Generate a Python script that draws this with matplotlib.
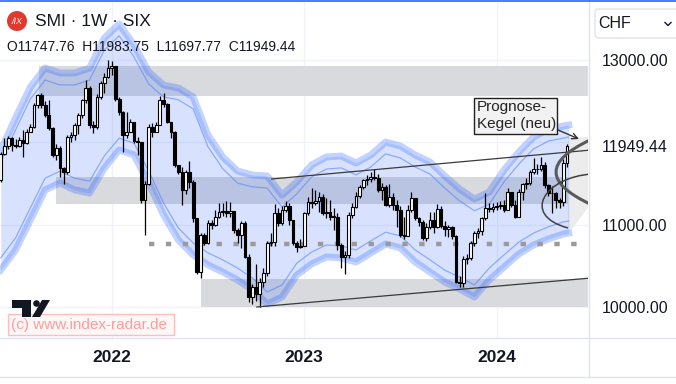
import matplotlib

matplotlib.use("Agg")
import matplotlib.pyplot as plt
import numpy as np
from matplotlib.patches import Circle, Polygon, Rectangle, FancyBboxPatch, PathPatch
from matplotlib.path import Path
from matplotlib.transforms import IdentityTransform

plt.rcParams["font.family"] = ["Liberation Sans", "DejaVu Sans"]

W, H = 676, 384

# ---- weekly SMI candles (index 0 = first visible week, mid 2021) ----
first_open = 11540
close = [
    11860, 11950, 12050, 11970, 11955, 12030, 11990, 12130, 12190, 12450,
    12570, 12450, 12330, 12170, 11850, 11930, 11685, 11645, 12070, 12090,
    12210, 12330, 12510, 12655, 12210, 12190, 12550, 12715, 12795, 12897,
    12920, 12530, 12370, 12090, 12130, 12250, 12010, 12000, 11300, 11500,
    12190, 12130, 12210, 12510, 12460, 12250, 12130, 11725, 11640, 11420,
    11645, 11520, 11080, 10430, 10876, 10776, 11020, 11000, 11100, 11160,
    11170, 11140, 11170, 10940, 10880, 11020, 10613, 10130, 10250, 10160,
    10310, 10412, 10776, 10795, 11140, 11018, 11180, 11230, 11058, 10780,
    10734, 10740, 11140, 11280, 11270, 11290, 11340, 11140, 11160, 11100,
    11100, 10755, 10613, 10634, 11120, 11220, 11350, 11460, 11540, 11551,
    11580, 11567, 11420, 11462, 11240, 11340, 11240, 11180, 10880, 10870,
    11180, 11321, 11080, 11030, 10840, 10977, 11060, 10977, 11190, 10980,
    10950, 10977, 10860, 10310, 10290, 10590, 10597, 10780, 10900, 10920,
    11080, 11200, 11190, 11220, 11230, 11240, 11180, 11400, 11240, 11100,
    11400, 11490, 11503, 11640, 11673, 11680, 11724, 11480, 11380, 11390,
    11300, 11280, 11747.76, 11949.44,
]
high = [
    11880, 12050, 12080, 12070, 12040, 12060, 12150, 12160, 12220, 12470,
    12590, 12600, 12500, 12510, 12180, 11980, 11950, 11700, 12090, 12120,
    12230, 12350, 12530, 12755, 12680, 12260, 12580, 12740, 12835, 12997,
    12990, 12930, 12550, 12380, 12370, 12280, 12250, 12060, 11990, 11530,
    12220, 12230, 12240, 12560, 12600, 12470, 12200, 12140, 11700, 11700,
    11660, 11770, 11540, 11060, 10900, 10900, 11060, 11060, 11180, 11260,
    11260, 11290, 11280, 11120, 10960, 11050, 11050, 10640, 10280, 10530,
    10350, 10480, 10800, 10900, 11250, 11200, 11230, 11290, 11270, 11050,
    10800, 10830, 11160, 11340, 11440, 11420, 11400, 11370, 11330, 11300,
    11200, 11140, 10780, 10680, 11150, 11260, 11400, 11480, 11560, 11600,
    11640, 11680, 11620, 11510, 11480, 11500, 11380, 11300, 11230, 11090,
    11240, 11401, 11300, 11100, 11060, 11020, 11150, 11158, 11250, 11230,
    11040, 11000, 10990, 10880, 10380, 10620, 10640, 10800, 10930, 10960,
    11100, 11380, 11260, 11270, 11280, 11290, 11300, 11450, 11400, 11300,
    11430, 11510, 11563, 11660, 11806, 11740, 11820, 11760, 11500, 11470,
    11400, 11320, 11800, 11983.75,
]
low = [
    11520, 11850, 11920, 11900, 11930, 11940, 11825, 11980, 12150, 12170,
    12420, 12420, 12310, 12150, 11820, 11780, 11583, 11500, 11620, 12000,
    12030, 12100, 12300, 12480, 12170, 12110, 12160, 12520, 12600, 12780,
    12820, 12500, 12330, 11886, 12050, 12120, 11990, 11850, 11270, 10880,
    11480, 12070, 12150, 12230, 12430, 12230, 12050, 11700, 11610, 11240,
    11370, 11440, 11030, 10400, 10351, 10750, 10770, 10950, 10980, 11080,
    11110, 11100, 11100, 10900, 10776, 10720, 10600, 10060, 10040, 10080,
    10000, 10250, 10380, 10740, 10740, 10980, 11000, 11150, 11000, 10760,
    10670, 10720, 10740, 11120, 11200, 11240, 11150, 11120, 11080, 11060,
    10940, 10700, 10480, 10404, 10600, 11080, 11200, 11330, 11430, 11480,
    11520, 11540, 11400, 11300, 11230, 11220, 11180, 10970, 10850, 10830,
    10860, 11150, 11060, 10990, 10820, 10800, 10950, 10900, 10960, 10960,
    10870, 10850, 10830, 10290, 10240, 10240, 10520, 10570, 10740, 10840,
    10880, 11060, 11150, 11160, 11180, 11190, 11160, 11180, 11220, 11080,
    11090, 11300, 11430, 11480, 11620, 11620, 11650, 11450, 11350, 11139,
    11200, 11200, 11230, 11697.77,
]

# ---- envelope band, sampled every 4 weeks ----
band_week = [0, 4, 8, 12, 16, 20, 24, 28, 32, 36, 40, 44, 48, 52, 56, 60, 64, 68, 72, 76,
             80, 84, 88, 92, 96, 100, 104, 108, 112, 116, 120, 124, 128, 132, 136, 140,
             144, 148, 152, 153.5]
band_up_outer = [11906, 12294, 12670, 12900, 12840, 12840, 12900, 13264, 13434, 13179,
                 12852, 12694, 12658, 12549, 12088, 11822, 11652, 11603, 11591, 11361,
                 11519, 11725, 11822, 11834, 11749, 11846, 12003, 11955, 11846, 11761,
                 11591, 11434, 11313, 11397, 11664, 11882, 12064, 12161, 12197, 12209]
band_up_inner = [11760, 12150, 12525, 12755, 12695, 12695, 12755, 13120, 13290, 13035,
                 12705, 12550, 12515, 12405, 11945, 11680, 11505, 11460, 11445, 11215,
                 11375, 11580, 11675, 11690, 11605, 11700, 11860, 11810, 11700, 11615,
                 11445, 11290, 11170, 11250, 11520, 11735, 11920, 12015, 12050, 12065]
band_lo_inner = [10600, 10840, 11205, 11565, 11650, 11565, 11530, 11835, 12050, 11990,
                 11650, 11265, 10960, 10780, 10660, 10575, 10475, 10355, 10185, 10270,
                 10535, 10670, 10755, 10745, 10695, 10805, 10910, 10865, 10695, 10575,
                 10450, 10365, 10270, 10475, 10635, 10790, 10900, 10975, 11035, 11045]
band_lo_outer = [10452, 10694, 11058, 11422, 11507, 11422, 11385, 11688, 11906, 11846,
                 11507, 11119, 10816, 10634, 10513, 10428, 10331, 10210, 10040, 10125,
                 10391, 10525, 10610, 10598, 10549, 10658, 10767, 10719, 10549, 10428,
                 10307, 10222, 10125, 10331, 10488, 10646, 10755, 10828, 10888, 10900]

# ---- zones / levels (week start, low, high) ----
zones = [(10.3, 12565, 12928), (14.9, 11258, 11580), (54.0, 10007, 10343)]
dotted_level = 10764
dotted_start = 40.0
trend_up = [(73.2, 11555), (159.5, 11906)]
trend_lo = [(69.2, 10004), (159.5, 10355)]

year_weeks = [30, 82, 134]
year_labels = ["2022", "2023", "2024"]
grid_levels = [10000, 11000, 12000, 13000]
axis_levels = [10000, 11000, 13000]

XMIN, XMAX = -0.2, 158.7
YMIN, YMAX = 9634, 13688
AX_TOP, AX_BOT, AX_RIGHT = 3, 337.5, 588
PIX = IdentityTransform()


def fx(px):
    return px / W


def fy(py):
    return 1 - py / H


def to_data(px, py):
    wk = XMIN + (XMAX - XMIN) * px / AX_RIGHT
    pr = YMAX - (YMAX - YMIN) * (py - AX_TOP) / (AX_BOT - AX_TOP)
    return wk, pr


fig = plt.figure(figsize=(W / 100, H / 100), dpi=100)
fig.patch.set_facecolor("white")
ax = fig.add_axes([0, fy(AX_BOT), fx(AX_RIGHT), (AX_BOT - AX_TOP) / H])
ax.set_xlim(XMIN, XMAX)
ax.set_ylim(YMIN, YMAX)
ax.set_facecolor("white")
for s in ax.spines.values():
    s.set_visible(False)

for lv in grid_levels:
    ax.axhline(lv, color="#f0f3fa", lw=1, zorder=0)
for wk in year_weeks:
    ax.axvline(wk, color="#f0f3fa", lw=1, zorder=0)

# gray zones
for start, lo, hi in zones:
    ax.add_patch(Rectangle((start, lo), XMAX + 1 - start, hi - lo, facecolor="#d9dadd",
                           edgecolor="none", zorder=1))

# light forecast area right of last candle
cone_pts = [to_data(568, 137), to_data(590, 137), to_data(590, 205), to_data(572, 229), to_data(568, 229)]
ax.add_patch(Polygon(cone_pts, closed=True, facecolor="#ececec", edgecolor="none", zorder=1))

# envelope band
ax.fill_between(band_week, band_lo_outer, band_up_outer, color="#2962ff", alpha=0.18, lw=0, zorder=2)
for ys in (band_up_outer, band_lo_outer):
    ax.plot(band_week, ys, color="#2962ff", alpha=0.28, lw=5, solid_joinstyle="round", zorder=3)
for ys in (band_up_inner, band_lo_inner):
    ax.plot(band_week, ys, color="#4f7cf7", alpha=0.55, lw=0.9, zorder=3)

# dotted level
ax.plot([dotted_start, XMAX + 1], [dotted_level, dotted_level], color="#9a9a9a", lw=3.2,
        linestyle=(0, (1.2, 2.6)), zorder=3)

# trend lines
for (x0, y0), (x1, y1) in (trend_up, trend_lo):
    ax.plot([x0, x1], [y0, y1], color="#3a3a3a", lw=0.9, zorder=6)

# candles
c = np.array(close, dtype=float)
o = np.array([first_open] + close[:-1], dtype=float)
idx = np.arange(len(c))
up = c >= o
ax.vlines(idx, low, high, color="black", lw=0.9, zorder=4)
ax.bar(idx, np.maximum(np.abs(c - o), 8), bottom=np.minimum(o, c), width=0.74,
       color=np.where(up, "white", "black"), edgecolor="black", linewidth=0.8, zorder=5)

# forecast cone arcs
big = Path([to_data(590, 140), to_data(522, 172), to_data(590, 204)],
           [Path.MOVETO, Path.CURVE3, Path.CURVE3])
ax.add_patch(PathPatch(big, facecolor="none", edgecolor="#5a5a5a", lw=2.2, zorder=6))
small = Path([to_data(592, 174), to_data(545, 177), to_data(520, 215), to_data(568, 228)],
             [Path.MOVETO, Path.CURVE4, Path.CURVE4, Path.CURVE4])
ax.add_patch(PathPatch(small, facecolor="none", edgecolor="#404040", lw=1.1, zorder=6))

# axes ticks
ax.set_xticks(year_weeks, year_labels)
ax.tick_params(axis="x", length=0, pad=9, labelsize=12.5, colors="#131722")
for lab in ax.get_xticklabels():
    lab.set_fontweight("bold")
last_close = close[-1]
ax.yaxis.tick_right()
ax.set_yticks(axis_levels + [last_close], [f"{v:.2f}" for v in axis_levels + [last_close]])
ax.tick_params(axis="y", length=0, pad=10, labelsize=11.5, colors="#131722")

# frame lines of the chart window
fig.add_artist(plt.Line2D([0, 1], [fy(337.5)] * 2, color="#e0e3eb", lw=1))
fig.add_artist(plt.Line2D([0, 1], [fy(377)] * 2, color="#e0e3eb", lw=1))
fig.add_artist(plt.Line2D([fx(588.5)] * 2, [fy(377), 1], color="#e0e3eb", lw=1))
fig.add_artist(plt.Line2D([0, 1], [fy(0.5)] * 2, color="#2962ff", lw=1.2))

# header
fig.add_artist(Circle((17, H - 21), 10, transform=PIX, facecolor="#e03a2f", edgecolor="none"))
fig.text(fx(17), fy(21), "/IX", color="white", fontsize=6.5, ha="center", va="center",
         style="italic")
fig.text(fx(35), fy(21), "SMI · 1W · SIX", fontsize=12.5, color="#131722", va="center")
fig.text(fx(7), fy(47), "O11747.76  H11983.75  L11697.77  C11949.44", fontsize=10,
         color="#131722", va="center")

# currency box
fig.add_artist(FancyBboxPatch((595, H - 38), 90, 29, transform=PIX,
                              boxstyle="round,pad=0,rounding_size=4", facecolor="white",
                              edgecolor="#e0e3eb", lw=1))
fig.text(fx(598), fy(23), "CHF", fontsize=11.5, color="#131722", va="center")
fig.add_artist(plt.Line2D([fx(665), fx(668), fx(671)], [fy(22.5), fy(25.5), fy(22.5)],
                          color="#131722", lw=1))

# annotation box + arrow
fig.add_artist(Rectangle((fx(474), fy(134)), fx(83), 36 / H, transform=fig.transFigure,
                         facecolor="#f2f2f2", edgecolor="#222222", lw=1, zorder=7))
fig.text(fx(477), fy(107), "Prognose-", fontsize=11, color="#222222", va="center", zorder=8)
fig.text(fx(477), fy(124), "Kegel (neu)", fontsize=11, color="#222222", va="center", zorder=8)
ax.annotate("", xy=(fx(579), fy(139)), xycoords="figure fraction", xytext=(fx(551), fy(127)),
            textcoords="figure fraction",
            arrowprops=dict(arrowstyle="->", color="#333333", lw=1, shrinkA=0, shrinkB=0,
                            mutation_scale=10), zorder=8)

# watermark
fig.add_artist(Rectangle((fx(8), fy(335)), fx(166), 21 / H, transform=fig.transFigure,
                         facecolor="#fff6f6", edgecolor="#ffb8b8", lw=1, alpha=0.9))
fig.text(fx(11), fy(324.5), "(c) www.index-radar.de", fontsize=11, color="#ff9c9c", va="center")

# TradingView logo
logo_kw = dict(transform=PIX, facecolor="#131722", edgecolor="none", zorder=9)
fig.add_artist(Polygon([(12, H - 300), (31, H - 300), (31, H - 317), (22, H - 317),
                        (22, H - 307.5), (12, H - 307.5)], closed=True, **logo_kw))
fig.add_artist(Circle((36.5, H - 303.5), 3.3, **logo_kw))
fig.add_artist(Polygon([(42, H - 300), (50, H - 300), (40, H - 317), (32, H - 317)],
                       closed=True, **logo_kw))

fig.savefig("out.png", dpi=100, facecolor="white")
